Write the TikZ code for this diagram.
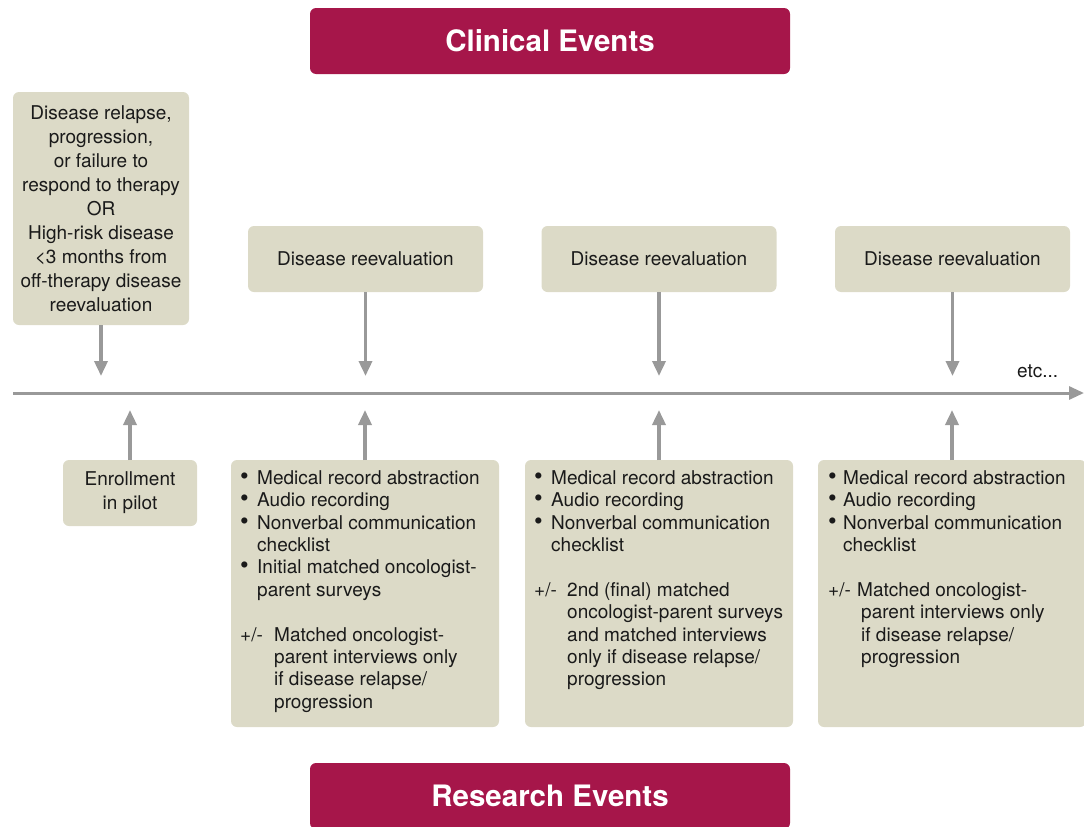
\documentclass[tikz,border=0pt]{standalone}
\usepackage{fontspec}
\setmainfont{TeX Gyre Heros}
\usetikzlibrary{arrows.meta}
\definecolor{boxfill}{RGB}{220,218,199}
\definecolor{evred}{RGB}{166,22,74}
\definecolor{arrgray}{RGB}{153,153,153}
\definecolor{txtc}{RGB}{26,26,26}
\newcommand\bl[1]{\makebox[#1pt][l]{\scalebox{1.3}{\textbullet}}}
\newcommand\ind[1]{\hspace*{#1pt}}
\begin{document}
\begin{tikzpicture}[x=1pt,y=-1pt,
 box/.style={fill=boxfill, rounded corners=6pt, inner sep=0pt, outer sep=0pt, text=txtc, font=\fontsize{19}{24}\selectfont, align=center},
 banner/.style={fill=evred, rounded corners=6pt, minimum width=480pt, minimum height=66pt, inner sep=0pt, text=white, font=\fontsize{29.5}{34}\selectfont\bfseries},
 list/.style={anchor=north west, inner sep=0pt, align=left, text=txtc, font=\fontsize{19}{22.4}\selectfont},
 arr/.style={draw=arrgray, line width=3.5pt, -{Triangle[width=13pt,length=15pt]}}]

\useasboundingbox (0,0) rectangle (1084,827);

% banners
\node[banner] (clin) at (550,41) {Clinical Events};
\node[banner] (res) at (550,796) {Research Events};

% clinical boxes
\node[box, minimum width=176pt, minimum height=233pt] (c0) at (101,208.5)
 {Disease relapse,\\progression,\\or failure to\\respond to therapy\\OR\\High-risk disease\\<3 months from\\off-therapy disease\\reevaluation};
\node[box, minimum width=235pt, minimum height=66pt] (c1) at (365.5,259) {Disease reevaluation};
\node[box, minimum width=235pt, minimum height=66pt] (c2) at (659,259) {Disease reevaluation};
\node[box, minimum width=235pt, minimum height=66pt] (c3) at (952.5,259) {Disease reevaluation};

% research boxes
\node[box, minimum width=134pt, minimum height=66pt] (r0) at (130,493) {Enrollment\\in pilot};
\node[box, minimum width=268pt, minimum height=267pt] (r1) at (365,593.5) {};
\node[box, minimum width=268pt, minimum height=267pt] (r2) at (659,593.5) {};
\node[box, minimum width=268pt, minimum height=267pt] (r3) at (952,593.5) {};

\node[list] (l1) at (240,470.3) {\bl{17}Medical record abstraction\\
 \bl{17}Audio recording\\
 \bl{17}Nonverbal communication\\
 \ind{17}checklist\\
 \bl{17}Initial matched oncologist-\\
 \ind{17}parent surveys\\[22.4pt]
 \makebox[34pt][l]{+/-}Matched oncologist-\\
 \ind{34}parent interviews only\\
 \ind{34}if disease relapse/\\
 \ind{34}progression};

\node[list] (l2) at (534,470.3) {\bl{17}Medical record abstraction\\
 \bl{17}Audio recording\\
 \bl{17}Nonverbal communication\\
 \ind{17}checklist\\[22.4pt]
 \makebox[33pt][l]{+/-}2nd (final) matched\\
 \ind{33}oncologist-parent surveys\\
 \ind{33}and matched interviews\\
 \ind{33}only if disease relapse/\\
 \ind{33}progression};

\node[list] (l3) at (828,470.3) {\bl{15}Medical record abstraction\\
 \bl{15}Audio recording\\
 \bl{15}Nonverbal communication\\
 \ind{15}checklist\\[22.4pt]
 \makebox[29pt][l]{+/-}Matched oncologist-\\
 \ind{33}parent interviews only\\
 \ind{33}if disease relapse/\\
 \ind{33}progression};

% timeline
\coordinate (ts) at (13,393);
\coordinate (te) at (1084,393);
\draw[arr, line width=3pt] (ts) -- (te);
\node[anchor=base west, inner sep=0pt, text=txtc, font=\fontsize{19}{22.4}\selectfont] (etc) at (1017,377) {etc...};

% arrows
\coordinate (dy) at (0,376);
\coordinate (uy) at (0,410);
\foreach \n in {c0,c1,c2,c3} \draw[arr] (\n.south) -- (\n.south |- dy);
\foreach \n in {r0,r1,r2,r3} \draw[arr] (\n.north) -- (\n.north |- uy);
\end{tikzpicture}
\end{document}
